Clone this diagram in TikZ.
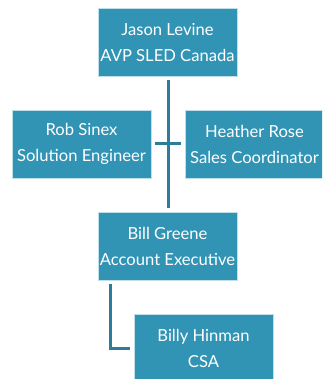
\documentclass[tikz,border=0pt]{standalone}
\usepackage{fontspec}
\setmainfont{Lato}
\definecolor{boxfill}{HTML}{3194B4}
\definecolor{boxedge}{HTML}{BFE0EA}
\definecolor{linec}{HTML}{2B7D99}
\begin{document}
\begin{tikzpicture}[x=1pt,y=-1pt,
  person/.style={draw=boxedge,line width=0.8pt,fill=boxfill,text=white,
    minimum width=139pt,minimum height=68pt,inner sep=0pt,align=center,
    font=\fontsize{16.6}{26}\selectfont},
  link/.style={draw=linec,line width=3pt}]
\useasboundingbox (0,0) rectangle (322,379);
\begin{scope}
\clip (0,0) rectangle (322,379);
\node[person] (jason) at (167.5,42.5) {Jason Levine\\AVP SLED Canada};
\node[person] (rob) at (81.5,144) {Rob Sinex\\Solution Engineer};
\node[person] (heather) at (254.5,144) {Heather Rose\\Sales Coordinator};
\node[person] (bill) at (167.5,246) {Bill Greene\\Account Executive};
\node[person] (billy) at (203.5,348) {Billy Hinman\\CSA};
\coordinate (top) at (168,80);
\coordinate (bot) at (168,208);
\coordinate (cl) at (155,144);
\coordinate (cr) at (181,144);
\coordinate (bend) at (110,348);
\coordinate (bstart) at (110,284);
\coordinate (bend2) at (130,348);
\draw[link] (top) -- (bot);
\draw[link] (cl) -- (cr);
\draw[link] (bstart) -- (bend) -- (bend2);
\end{scope}
\end{tikzpicture}
\end{document}
